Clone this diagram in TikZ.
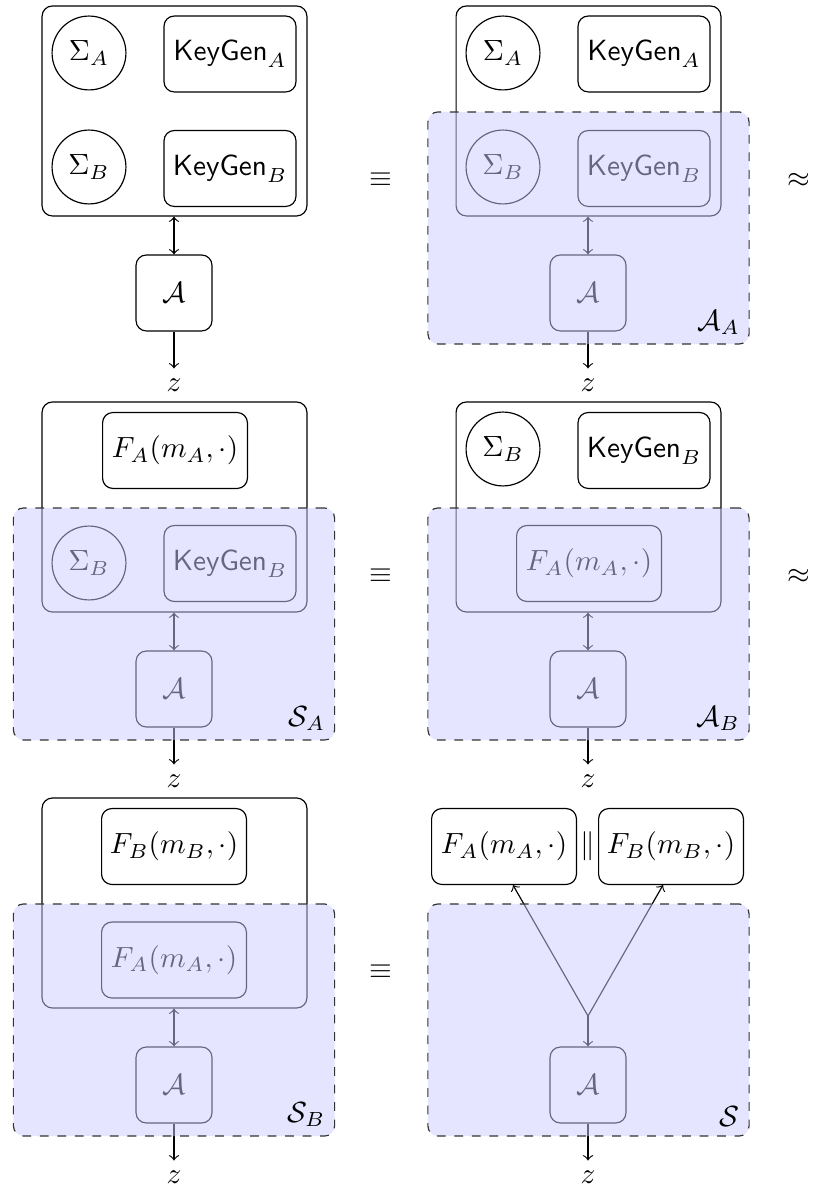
\documentclass[tikz,border=0pt]{standalone}
\usetikzlibrary{calc}
\begin{document}
\begin{tikzpicture}[x=0.34247pt,y=-0.34247pt,
  every node/.style={inner sep=0pt},
  outerbox/.style={draw,rounded corners=3.5pt,minimum width=90.7pt,minimum height=71.9pt},
  sig/.style={draw,circle,minimum size=25.3pt},
  kbox/.style={draw,rounded corners=3.5pt,minimum width=45.2pt,minimum height=26pt},
  fbox/.style={draw,rounded corners=3.5pt,minimum width=49.6pt,minimum height=26pt},
  abox/.style={draw,rounded corners=3.5pt,minimum width=26pt,minimum height=26pt},
  ovl/.style={draw=black!80,dashed,fill=blue!20,fill opacity=0.5,rounded corners=3.5pt,minimum width=110pt,minimum height=79.5pt},
  lbl/.style={anchor=south east,inner sep=3.2pt},
  zlab/.style={inner sep=3.3pt},
  rel/.style={inner sep=1pt}
]
\useasboundingbox (0,0) rectangle (812,1190);

% ---------- Panel 1 ----------
\node[outerbox] (p1box) at (174.5,111) {};
\node[sig] (p1sa) at (89,53) {$\Sigma_A$};
\node[kbox] (p1ka) at (230,54) {$\mathsf{KeyGen}_A$};
\node[sig] (p1sb) at (89,167) {$\Sigma_B$};
\node[kbox] (p1kb) at (230,168.5) {$\mathsf{KeyGen}_B$};
\node[abox] (p1a) at (174,293) {$\mathcal{A}$};
\node[zlab] (p1z) at (174,385) {$z$};
\draw[<->] (p1a.north |- p1box.south) -- (p1a.north);
\draw[->] (p1a.south) -- (p1z.north);
\node[rel] (eq1) at (381,180) {$\equiv$};

% ---------- Panel 2 ----------
\node[outerbox] (p2box) at (588.5,111) {};
\node[sig] (p2sa) at (503,53) {$\Sigma_A$};
\node[kbox] (p2ka) at (644,54) {$\mathsf{KeyGen}_A$};
\node[sig] (p2sb) at (503,167) {$\Sigma_B$};
\node[kbox] (p2kb) at (644,168.5) {$\mathsf{KeyGen}_B$};
\node[abox] (p2a) at (588,293) {$\mathcal{A}$};
\node[zlab] (p2z) at (588,385) {$z$};
\draw[<->] (p2a.north |- p2box.south) -- (p2a.north);
\draw[->] (p2a.south) -- (p2z.north);
\node[ovl] (p2ov) at (588.5,228) {};
\node[lbl] (p2lbl) at (p2ov.south east) {$\mathcal{A}_A$};
\node[rel] (ap1) at (799,180) {$\approx$};

% ---------- Panel 3 ----------
\node[outerbox] (p3box) at (174.5,507) {};
\node[fbox] (p3fa) at (175,450.5) {$F_A(m_A,\cdot)$};
\node[sig] (p3sb) at (89,563) {$\Sigma_B$};
\node[kbox] (p3kb) at (230,563.5) {$\mathsf{KeyGen}_B$};
\node[abox] (p3a) at (174,689) {$\mathcal{A}$};
\node[zlab] (p3z) at (174,781) {$z$};
\draw[<->] (p3a.north |- p3box.south) -- (p3a.north);
\draw[->] (p3a.south) -- (p3z.north);
\node[ovl] (p3ov) at (174,624) {};
\node[lbl] (p3lbl) at (p3ov.south east) {$\mathcal{S}_A$};
\node[rel] (eq2) at (381,576) {$\equiv$};

% ---------- Panel 4 ----------
\node[outerbox] (p4box) at (588.5,507) {};
\node[sig] (p4sb) at (503,449) {$\Sigma_B$};
\node[kbox] (p4kb) at (644,450.5) {$\mathsf{KeyGen}_B$};
\node[fbox] (p4fa) at (589,563.5) {$F_A(m_A,\cdot)$};
\node[abox] (p4a) at (588,689) {$\mathcal{A}$};
\node[zlab] (p4z) at (588,781) {$z$};
\draw[<->] (p4a.north |- p4box.south) -- (p4a.north);
\draw[->] (p4a.south) -- (p4z.north);
\node[ovl] (p4ov) at (588.5,624) {};
\node[lbl] (p4lbl) at (p4ov.south east) {$\mathcal{A}_B$};
\node[rel] (ap2) at (799,576) {$\approx$};

% ---------- Panel 5 ----------
\node[outerbox] (p5box) at (174.5,903) {};
\node[fbox] (p5fb) at (174,846.5) {$F_B(m_B,\cdot)$};
\node[fbox] (p5fa) at (174,960) {$F_A(m_A,\cdot)$};
\node[abox] (p5a) at (174,1085) {$\mathcal{A}$};
\node[zlab] (p5z) at (174,1177) {$z$};
\draw[<->] (p5a.north |- p5box.south) -- (p5a.north);
\draw[->] (p5a.south) -- (p5z.north);
\node[ovl] (p5ov) at (174,1020) {};
\node[lbl] (p5lbl) at (p5ov.south east) {$\mathcal{S}_B$};
\node[rel] (eq3) at (381,972) {$\equiv$};

% ---------- Panel 6 ----------
\node[fbox] (p6fa) at (504,846.5) {$F_A(m_A,\cdot)$};
\node[fbox] (p6fb) at (671,846.5) {$F_B(m_B,\cdot)$};
\node[rel] (p6par) at (587.5,846) {$\|$};
\coordinate (p6j) at (588,1016);
\node[abox] (p6a) at (588,1085) {$\mathcal{A}$};
\node[zlab] (p6z) at (588,1177) {$z$};
\draw[->] (p6j) -- ($(p6fa.south)+(9,0)$);
\draw[->] (p6j) -- ($(p6fb.south)+(-8,0)$);
\draw[->] (p6j) -- (p6a.north);
\draw[->] (p6a.south) -- (p6z.north);
\node[ovl] (p6ov) at (588.5,1020) {};
\node[lbl] (p6lbl) at (p6ov.south east) {$\mathcal{S}$};
\end{tikzpicture}
\end{document}
